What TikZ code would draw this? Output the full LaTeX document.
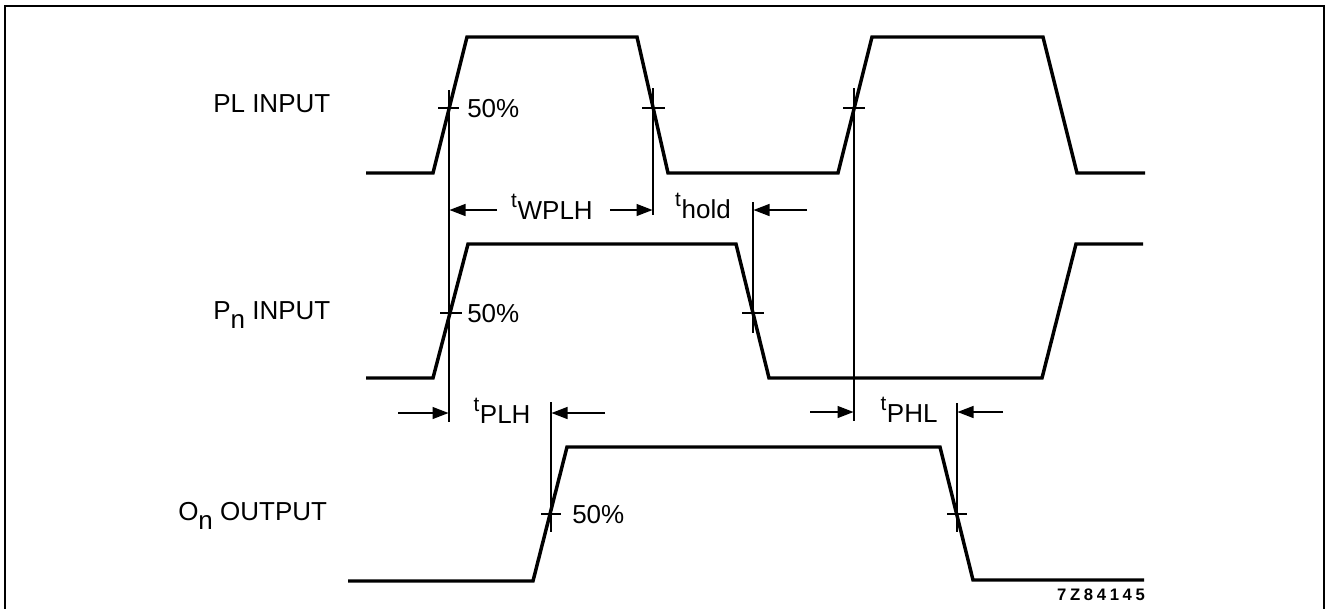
\documentclass[tikz,border=0pt]{standalone}
\usepackage{fontspec}
\setmainfont{Liberation Sans}
\usetikzlibrary{arrows.meta}
\newcommand{\tlbl}[1]{\raisebox{9pt}{\fontsize{15.5}{15.5}\selectfont t}\kern0.5pt#1}
\begin{document}
\begin{tikzpicture}[x=0.75pt,y=-0.75pt,
  wave/.style={line width=2.6pt, line join=miter},
  thinline/.style={line width=0.9pt},
  dimarrow/.style={line width=1pt,-{Triangle[length=12pt,width=9pt]}},
  lbl/.style={font=\fontsize{19.5}{22}\selectfont, inner sep=0pt},
  pct/.style={font=\fontsize{19.5}{22}\selectfont, inner sep=0pt, anchor=west},
  tname/.style={font=\fontsize{19.5}{22}\selectfont, inner sep=0pt, anchor=base}]
\useasboundingbox (0,0) rectangle (1326,608);
% frame
\draw[line width=1.5pt] (5,610) -- (5,6) -- (1324,6) -- (1324,610);

% signal names
\node[lbl, anchor=base west] (plname) at (213,112) {PL INPUT};
\node[lbl, anchor=base west] (pnname) at (213,319) {P\raisebox{-6.8pt}{n} INPUT};
\node[lbl, anchor=base west] (onname) at (178,520) {O\raisebox{-6.8pt}{n} OUTPUT};

% waveforms
\draw[wave] (366,173) -- (433,173) -- (467,37) -- (637,37) -- (668,173) -- (838,173) -- (872,37) -- (1043,37) -- (1077,173) -- (1145,173);
\draw[wave] (366,378) -- (433,378) -- (468,244) -- (736,244) -- (769,378) -- (1042,378) -- (1076,244) -- (1143,244);
\draw[wave] (348,581) -- (533,581) -- (567,447) -- (940,447) -- (973,580) -- (1144,580);

% reference lines
\coordinate (v1t) at (449,90);  \coordinate (v1b) at (449,422);
\coordinate (v2t) at (653,88);  \coordinate (v2b) at (653,215);
\coordinate (v3t) at (854,88);  \coordinate (v3b) at (854,421);
\coordinate (v4t) at (753,202); \coordinate (v4b) at (753,333);
\coordinate (v5t) at (551,402); \coordinate (v5b) at (551,532);
\coordinate (v6t) at (957,403); \coordinate (v6b) at (957,532);
\draw[thinline] (v1t) -- (v1b);
\draw[thinline] (v2t) -- (v2b);
\draw[thinline] (v3t) -- (v3b);
\draw[thinline] (v4t) -- (v4b);
\draw[thinline] (v5t) -- (v5b);
\draw[thinline] (v6t) -- (v6b);

% 50% ticks
\draw[thinline] (438,108) -- (459,108);
\draw[thinline] (642,108) -- (665,108);
\draw[thinline] (843,108) -- (865,108);
\draw[thinline] (440,313) -- (462,313);
\draw[thinline] (742,313) -- (764,313);
\draw[thinline] (541,514) -- (561,514);
\draw[thinline] (947,514) -- (967,514);

\node[pct] (p1) at (467,109) {50\%};
\node[pct] (p2) at (467,314) {50\%};
\node[pct] (p3) at (572,515) {50\%};

% timing labels
\node[tname] (twplh) at (552,219) {\tlbl{WPLH}};
\node[tname] (thold) at (703,218) {\tlbl{hold}};
\node[tname] (tplh) at (502,423) {\tlbl{PLH}};
\node[tname] (tphl) at (909,422) {\tlbl{PHL}};

% dimension arrows
\coordinate (a1) at (497,210); \coordinate (a1e) at (449.5,210);
\coordinate (a2) at (610,210); \coordinate (a2e) at (652.5,210);
\coordinate (a3) at (807,210); \coordinate (a3e) at (753.5,210);
\coordinate (a4) at (398,413); \coordinate (a4e) at (448.5,413);
\coordinate (a5) at (605,413); \coordinate (a5e) at (551.5,413);
\coordinate (a6) at (810,412); \coordinate (a6e) at (853.5,412);
\coordinate (a7) at (1003,412); \coordinate (a7e) at (957.5,412);
\draw[dimarrow] (a1) -- (a1e);
\draw[dimarrow] (a2) -- (a2e);
\draw[dimarrow] (a3) -- (a3e);
\draw[dimarrow] (a4) -- (a4e);
\draw[dimarrow] (a5) -- (a5e);
\draw[dimarrow] (a6) -- (a6e);
\draw[dimarrow] (a7) -- (a7e);

% drawing number
\node[inner sep=0pt, font=\fontsize{12.5}{14}\selectfont\bfseries\addfontfeature{LetterSpace=22}] (code) at (1101,595) {7Z84145};
\end{tikzpicture}
\end{document}
